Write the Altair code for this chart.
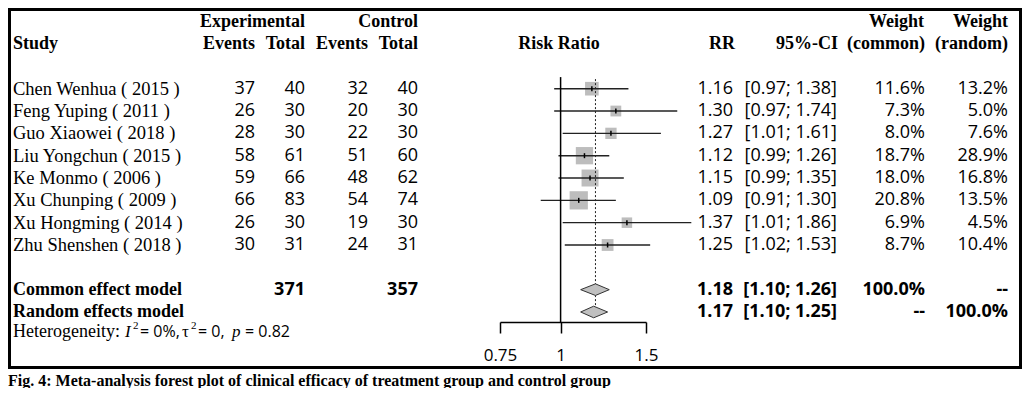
import altair as alt
import pandas as pd

# ---------------- data ----------------
studies = ["Chen Wenhua ( 2015 )", "Feng Yuping ( 2011 )", "Guo Xiaowei ( 2018 )",
           "Liu Yongchun ( 2015 )", "Ke Monmo ( 2006 )", "Xu Chunping ( 2009 )",
           "Xu Hongming ( 2014 )", "Zhu Shenshen ( 2018 )"]
exp_events = [37, 26, 28, 58, 59, 66, 26, 30]
exp_total = [40, 30, 30, 61, 66, 83, 30, 31]
ctrl_events = [32, 20, 22, 51, 48, 54, 19, 24]
ctrl_total = [40, 30, 30, 60, 62, 74, 30, 31]
rr = [1.16, 1.30, 1.27, 1.12, 1.15, 1.09, 1.37, 1.25]
ci_low = [0.97, 0.97, 1.01, 0.99, 0.99, 0.91, 1.01, 1.02]
ci_high = [1.38, 1.74, 1.61, 1.26, 1.35, 1.30, 1.86, 1.53]
w_common = [11.6, 7.3, 8.0, 18.7, 18.0, 20.8, 6.9, 8.7]
w_random = [13.2, 5.0, 7.6, 28.9, 16.8, 13.5, 4.5, 10.4]

models = ["Common effect model", "Random effects model"]
model_rr = [1.18, 1.17]
model_low = [1.10, 1.10]
model_high = [1.26, 1.25]
model_wc = ["100.0%", "--"]
model_wr = ["--", "100.0%"]
total_exp = 371
total_ctrl = 357
axis_ticks = [0.75, 1, 1.5]

caption = "Fig. 4: Meta-analysis forest plot of clinical efficacy of treatment group and control group"

# ---------------- tables ----------------
n = len(studies)
df = pd.DataFrame({
    "row": list(range(n)),
    "study": studies,
    "ee": [str(v) for v in exp_events],
    "et": [str(v) for v in exp_total],
    "ce": [str(v) for v in ctrl_events],
    "ct": [str(v) for v in ctrl_total],
    "rr": rr, "lo": ci_low, "hi": ci_high, "wc": w_common,
    "rr_t": [f"{v:.2f}" for v in rr],
    "ci_t": [f"[{l:.2f}; {h:.2f}]" for l, h in zip(ci_low, ci_high)],
    "wc_t": [f"{v:.1f}%" for v in w_common],
    "wr_t": [f"{v:.1f}%" for v in w_random],
})

sum_rows = [n + 1, n + 2]
sm = pd.DataFrame({
    "row": sum_rows,
    "model": models,
    "rr_t": [f"{v:.2f}" for v in model_rr],
    "ci_t": [f"[{l:.2f}; {h:.2f}]" for l, h in zip(model_low, model_high)],
    "wc_t": model_wc,
    "wr_t": model_wr,
    "et": [str(total_exp), ""],
    "ct": [str(total_ctrl), ""],
})

DH = 0.26  # diamond half-height in row units (style)
dia = []
for m, r, e, l, h in zip(models, sum_rows, model_rr, model_low, model_high):
    dia += [{"m": m, "x": l, "y": r, "y2": r},
            {"m": m, "x": e, "y": r - DH, "y2": r + DH},
            {"m": m, "x": h, "y": r, "y2": r}]
dia = pd.DataFrame(dia)

# ---------------- styles / scales ----------------
SERIF = "Liberation Serif"
SANS = "Open Sans"
FS = 18      # numbers
FSN = 18.5   # study names
FSH = 18     # headers

YS = alt.Scale(domain=[0, 7], range=[80.7, 237], nice=False, zero=False)
XS = alt.Scale(type="log", domain=[0.75, 1.5], range=[492, 638], nice=False)
XAX = alt.Axis(values=axis_ticks, format=".2~f", title=None, grid=False,
               domainColor="black", domainWidth=1.5, tickColor="black",
               tickWidth=1.5, tickSize=11, labelFont=SANS, labelFontSize=17,
               labelColor="black", labelPadding=14, labelFlush=False,
               labelOverlap=False, orient="bottom")


def txt(data, field, x, align="right", font=SANS, size=FS, weight="normal",
        style="normal", dy=0):
    return alt.Chart(data).mark_text(
        align=align, baseline="middle", font=font, fontSize=size,
        fontWeight=weight, fontStyle=style, color="black", dy=dy
    ).encode(x=alt.value(x), y=alt.Y("row:Q", scale=YS, axis=None),
             text=alt.Text(f"{field}:N"))


def label(text, row, x, align="right", font=SERIF, size=FSH, weight="bold",
          style="normal", dy=0):
    return txt(pd.DataFrame({"row": [row], "t": [text]}), "t", x, align,
               font, size, weight, style, dy)


layers = []

# frame
layers.append(alt.Chart(pd.DataFrame({"a": [0]})).mark_rect(
    fillOpacity=0, stroke="black", strokeWidth=3
).encode(x=alt.value(1.5), x2=alt.value(1012.5), y=alt.value(1.5), y2=alt.value(359.5)))

# headers
H1, H2 = -3, -2
layers += [
    label("Experimental", H1, 297), label("Control", H1, 410),
    label("Weight", H1, 916), label("Weight", H1, 1000),
    label("Study", H2, 5, align="left"),
    label("Events", H2, 247), label("Total", H2, 297),
    label("Events", H2, 360), label("Total", H2, 410),
    label("Risk Ratio", H2, 551, align="center"),
    label("RR", H2, 727), label("95%-CI", H2, 830),
    label("(common)", H2, 917), label("(random)", H2, 1000),
]

# study rows
layers += [
    txt(df, "study", 5, align="left", font=SERIF, size=FSN),
    txt(df, "ee", 247), txt(df, "et", 297), txt(df, "ce", 360), txt(df, "ct", 410),
    txt(df, "rr_t", 725), txt(df, "ci_t", 829), txt(df, "wc_t", 917), txt(df, "wr_t", 1000),
]

# summary rows
layers += [
    txt(sm, "model", 5, align="left", font=SERIF, size=18, weight="bold"),
    txt(sm, "et", 297, weight="bold"), txt(sm, "ct", 410, weight="bold"),
    txt(sm, "rr_t", 725, weight="bold"), txt(sm, "ci_t", 829, weight="bold"),
    txt(sm, "wc_t", 917, weight="bold"), txt(sm, "wr_t", 1000, weight="bold"),
]

# heterogeneity line
HR = 10.9
layers += [
    label("Heterogeneity:", HR, 5, align="left", size=18, weight="normal"),
    label("I", HR, 117, align="left", size=17, weight="normal", style="italic"),
    label("2", HR, 125, align="left", size=11, weight="normal", dy=-6),
    label("= 0%,", HR, 132, align="left", font=SANS, size=16, weight="normal"),
    label("τ", HR, 174, align="left", size=17, weight="normal"),
    label("2", HR, 183, align="left", size=11, weight="normal", dy=-6),
    label("= 0,", HR, 190, align="left", font=SANS, size=16, weight="normal"),
    label("p", HR, 224, align="left", size=17, weight="normal", style="italic"),
    label("= 0.82", HR, 237, align="left", font=SANS, size=16, weight="normal"),
]

# forest: squares
layers.append(alt.Chart(df).mark_square(color="#bdbdbd", opacity=1).encode(
    x=alt.X("rr:Q", scale=XS, axis=XAX),
    y=alt.Y("row:Q", scale=YS, axis=None),
    size=alt.Size("wc:Q", scale=alt.Scale(domain=[0, 100], range=[0, 1600]), legend=None),
))

# reference line at common estimate (dashed)
ref = pd.DataFrame({"x": [model_rr[0]], "r1": [-0.43], "r2": [sum_rows[1]]})
layers.append(alt.Chart(ref).mark_rule(color="#222", strokeWidth=1, strokeDash=[2, 2]).encode(
    x=alt.X("x:Q", scale=XS, axis=XAX),
    y=alt.Y("r1:Q", scale=YS, axis=None), y2="r2:Q"))

# CI lines
layers.append(alt.Chart(df).mark_rule(color="#222", strokeWidth=1.4).encode(
    x=alt.X("lo:Q", scale=XS, axis=XAX), x2="hi:Q",
    y=alt.Y("row:Q", scale=YS, axis=None)))

# center marks
layers.append(alt.Chart(df).mark_point(shape="M0,-1L0,1", size=25, color="black",
                                       strokeWidth=1.5, filled=False, opacity=1).encode(
    x=alt.X("rr:Q", scale=XS, axis=XAX),
    y=alt.Y("row:Q", scale=YS, axis=None)))

# diamonds
layers.append(alt.Chart(dia).mark_area(fill="#c0c0c0", stroke="#333", strokeWidth=1,
                                       opacity=1).encode(
    x=alt.X("x:Q", scale=XS, axis=XAX),
    y=alt.Y("y:Q", scale=YS, axis=None), y2="y2:Q",
    detail="m:N"))

# line of no effect
noeff = pd.DataFrame({"x": [1], "r1": [-0.52]})
layers.append(alt.Chart(noeff).mark_rule(color="black", strokeWidth=1.5).encode(
    x=alt.X("x:Q", scale=XS, axis=XAX),
    y=alt.Y("r1:Q", scale=YS, axis=None), y2=alt.value(314)))

# caption
layers.append(alt.Chart(pd.DataFrame({"t": [caption]})).mark_text(
    align="left", baseline="middle", font=SERIF, fontSize=16, fontWeight="bold", color="black"
).encode(x=alt.value(0), y=alt.value(373), text="t:N"))

chart = alt.layer(*layers).properties(
    width=1014, height=314,
    autosize=alt.AutoSizeParams(type="none"),
    padding={"left": 0, "right": 0, "top": 0, "bottom": 66},
).configure_view(stroke=None)

chart.save("out.html", embed_options={"renderer": "svg", "actions": False})
